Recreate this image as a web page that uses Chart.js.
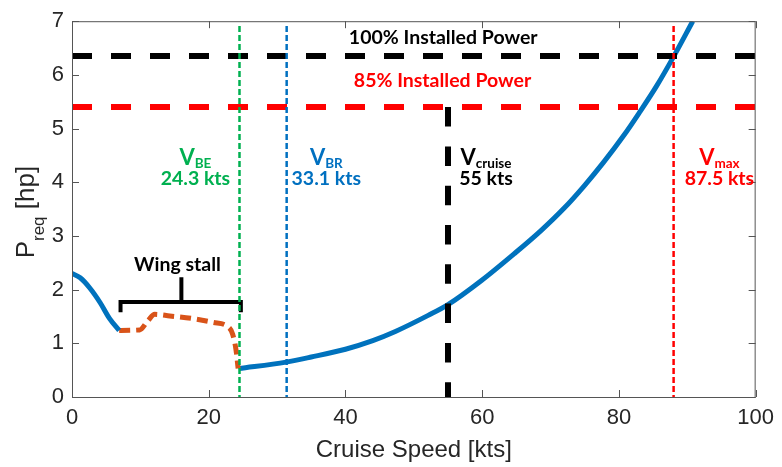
<!DOCTYPE html>
<html><head><meta charset="utf-8">
<script src="https://cdn.jsdelivr.net/npm/chart.js@4/dist/chart.umd.min.js"></script>
<style>html,body{margin:0;padding:0;background:#fff;}canvas{display:block;}</style>
</head><body>
<canvas id="c" width="782" height="467"></canvas>
<script>
// ---- data ----
const speedLow = [0, 1.2, 2.6, 4.1, 5.5, 6.9];
const powerLow = [2.30, 2.22, 2.03, 1.76, 1.46, 1.24];
const speedStall = [6.9, 9.9, 11.1, 12.1, 14.3, 17.7, 20.6, 23.0, 23.5, 24.0, 24.3];
const powerStall = [1.24, 1.25, 1.42, 1.54, 1.51, 1.46, 1.39, 1.29, 1.17, 0.87, 0.53];
const speedHigh = [24.4, 31.3, 35, 40, 44, 47.3, 52.1, 55, 59.9, 64.7, 68.6, 72.0, 74.9, 77.8, 80.7, 82.9, 85.5, 88.0, 90.8];
const powerHigh = [0.53, 0.65, 0.745, 0.89, 1.05, 1.22, 1.52, 1.72, 2.17, 2.67, 3.10, 3.52, 3.93, 4.38, 4.87, 5.28, 5.79, 6.34, 7.0];
const installedPower100 = 6.35;
const installedPower85 = 5.40;
const vBE = 24.5, vBR = 31.4, vCruise = 55, vMax = 88.0;
const vLineTop = 6.91;
const bracketX = [7.1, 7.1, 16.0, 16.0, 16.0, 24.7, 24.7];
const bracketY = [1.58, 1.77, 1.77, 2.23, 1.77, 1.77, 1.58];
const xTickValues = [0, 20, 40, 60, 80, 100];
const yTickValues = [0, 1, 2, 3, 4, 5, 6, 7];
const xRange = [0, 100], yRange = [0, 7];

const C_BLUE = '#0072BD', C_ORANGE = '#D95319', C_GREEN = '#00B050', C_BLUE2 = '#0070C0', C_RED = '#FF0000';

const pts = (xs, ys) => xs.map((x, i) => ({x, y: ys[i]}));
const line = (data, color, width, dash, order, extra) => Object.assign({
  data, borderColor: color, backgroundColor: color, borderWidth: width, borderDash: dash || [],
  showLine: true, pointRadius: 0, fill: false, order, borderCapStyle: 'butt'
}, extra || {});

const datasets = [
  line(pts(speedLow, powerLow), C_BLUE, 5, [], 10, {cubicInterpolationMode: 'monotone', borderJoinStyle: 'round'}),
  line(pts(speedStall, powerStall), C_ORANGE, 5, [11, 6], 10, {cubicInterpolationMode: 'monotone'}),
  line(pts(speedHigh, powerHigh), C_BLUE, 5, [], 10, {cubicInterpolationMode: 'monotone'}),
  line(pts(xRange, [installedPower100, installedPower100]), '#000', 6, [20, 19], 5),
  line(pts(xRange, [installedPower85, installedPower85]), C_RED, 6, [20, 19], 5),
  line(pts([vCruise, vCruise], [installedPower85, 0]), '#000', 6, [19.5, 19.8], 1),
  line(pts([vBE, vBE], [vLineTop, 0]), C_GREEN, 2.5, [6, 3], 1),
  line(pts([vBR, vBR], [vLineTop, 0]), C_BLUE2, 2.5, [6, 3], 1),
  line(pts([vMax, vMax], [vLineTop, 0]), C_RED, 2.5, [6, 3], 1),
  line(pts(bracketX, bracketY), '#000', 4, [], 2, {borderJoinStyle: 'miter'})
];

// annotation text: [parts], x (data), baseline y (data), color
const B = 'bold 19.5px Lato', V = 'bold 22px Lato', S = 'bold 13.5px Lato';
const notes = [
  {x: 54.3, y: 6.58, color: '#000', parts: [{t: '100% Installed Power', f: B}]},
  {x: 54.2, y: 5.77, color: C_RED, parts: [{t: '85% Installed Power', f: B}]},
  {x: 18.05, y: 4.33, color: C_GREEN, parts: [{t: 'V', f: V}, {t: 'BE', f: S, dy: 3}]},
  {x: 18.05, y: 3.94, color: C_GREEN, parts: [{t: '24.3 kts', f: B}]},
  {x: 37.2, y: 4.33, color: C_BLUE2, parts: [{t: 'V', f: V}, {t: 'BR', f: S, dy: 3}]},
  {x: 37.2, y: 3.94, color: C_BLUE2, parts: [{t: '33.1 kts', f: B}]},
  {x: 60.55, y: 4.33, color: '#000', parts: [{t: 'V', f: V}, {t: 'cruise', f: S, dy: 3}]},
  {x: 60.55, y: 3.94, color: '#000', parts: [{t: '55 kts', f: B}]},
  {x: 94.7, y: 4.33, color: C_RED, parts: [{t: 'V', f: V}, {t: 'max', f: S, dy: 3}]},
  {x: 94.7, y: 3.94, color: C_RED, parts: [{t: '87.5 kts', f: B}]},
  {x: 15.43, y: 2.35, color: '#000', parts: [{t: 'Wing stall', f: B}]}
];

function drawParts(ctx, parts, cx, baseY, align) {
  let w = 0;
  parts.forEach(p => { ctx.font = p.f; p.w = ctx.measureText(p.t).width; w += p.w; });
  let x = align === 'center' ? cx - w / 2 : cx;
  parts.forEach(p => { ctx.font = p.f; ctx.fillText(p.t, x, baseY + (p.dy || 0)); x += p.w; });
}

const decor = {
  id: 'decor',
  afterDraw(chart) {
    const {ctx, chartArea: a, scales: {x, y}} = chart;
    ctx.save();
    // axes box with inward ticks
    ctx.strokeStyle = '#555'; ctx.lineWidth = 1;
    ctx.strokeRect(a.left + 0.5, a.top + 0.5, a.right - a.left - 1, a.bottom - a.top);
    ctx.beginPath();
    xTickValues.forEach(v => {
      const px = Math.round(x.getPixelForValue(v)) + 0.5;
      ctx.moveTo(px, a.bottom); ctx.lineTo(px, a.bottom - 7);
      ctx.moveTo(px, a.top); ctx.lineTo(px, a.top + 7);
    });
    yTickValues.forEach(v => {
      const py = Math.round(y.getPixelForValue(v)) + 0.5;
      ctx.moveTo(a.left, py); ctx.lineTo(a.left + 7, py);
      ctx.moveTo(a.right, py); ctx.lineTo(a.right - 7, py);
    });
    ctx.stroke();
    // annotations
    ctx.textBaseline = 'alphabetic';
    notes.forEach(n => {
      ctx.fillStyle = n.color;
      drawParts(ctx, n.parts.map(p => Object.assign({}, p)), x.getPixelForValue(n.x), y.getPixelForValue(n.y), 'center');
    });
    // y-axis title with subscript
    ctx.fillStyle = '#262626';
    ctx.translate(34, (a.top + a.bottom) / 2 + 3);
    ctx.rotate(-Math.PI / 2);
    drawParts(ctx, [
      {t: 'P', f: '26px "Liberation Sans"'},
      {t: 'req', f: '17px "Liberation Sans"', dy: 10},
      {t: ' [hp]', f: '26px "Liberation Sans"'}
    ], 0, 0, 'center');
    ctx.restore();
  }
};

const tickFont = {family: '"Liberation Sans", Arial, sans-serif', size: 22};
new Chart(document.getElementById('c'), {
  type: 'scatter',
  data: {datasets},
  options: {
    responsive: false, animation: false, devicePixelRatio: 1,
    layout: {padding: {left: 0, top: 17, right: 23, bottom: 0}},
    plugins: {legend: {display: false}, tooltip: {enabled: false}},
    scales: {
      x: {
        type: 'linear', min: xRange[0], max: xRange[1],
        grid: {display: false, drawTicks: false}, border: {display: false},
        afterBuildTicks: s => { s.ticks = xTickValues.map(v => ({value: v})); },
        ticks: {color: '#262626', font: tickFont, padding: 8, maxRotation: 0},
        title: {display: true, text: 'Cruise Speed [kts]', color: '#262626',
                font: {family: '"Liberation Sans", Arial, sans-serif', size: 24}, padding: {top: 0, bottom: 2}},
        afterFit: s => { s.height = 70; }
      },
      y: {
        type: 'linear', min: yRange[0], max: yRange[1],
        grid: {display: false, drawTicks: false}, border: {display: false},
        afterBuildTicks: s => { s.ticks = yTickValues.map(v => ({value: v})); },
        ticks: {color: '#262626', font: tickFont, padding: 8},
        afterFit: s => { s.width = 72; }
      }
    }
  },
  plugins: [decor]
});
</script>
</body></html>
